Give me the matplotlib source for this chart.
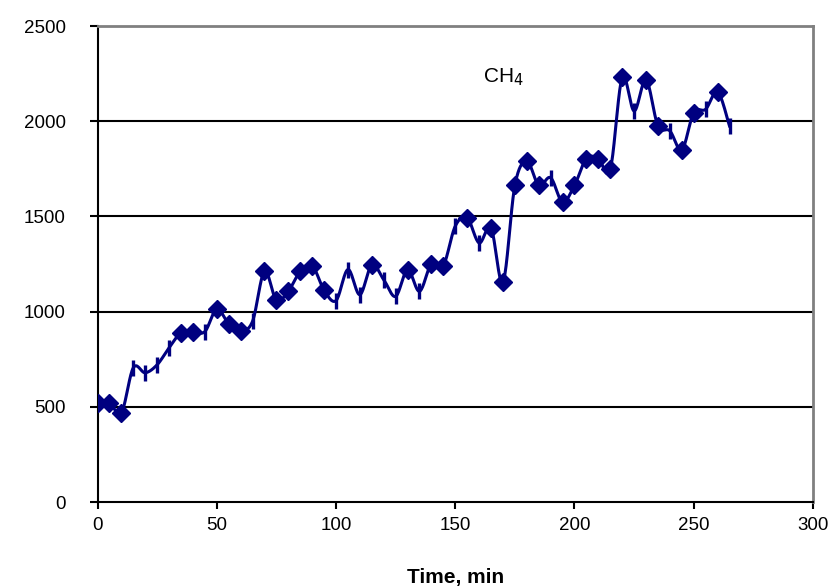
import numpy as np
import matplotlib.pyplot as plt

# CH4 readings, points drawn with diamond markers
diamond_t = [0, 5, 10, 35, 40, 50, 55, 60, 70, 75, 80, 85, 90, 95, 115, 130,
             140, 145, 155, 165, 170, 175, 180, 185, 195, 200, 205, 210, 215,
             220, 230, 235, 245, 250, 260]
diamond_v = [521, 521, 468, 889, 895, 1013, 937, 900, 1212, 1060, 1107, 1212,
             1242, 1112, 1247, 1221, 1252, 1242, 1493, 1440, 1154, 1663, 1791,
             1663, 1575, 1663, 1804, 1804, 1747, 2230, 2217, 1975, 1849, 2045,
             2156]

# CH4 readings, points drawn with short vertical dashes
dash_t = [15, 20, 25, 30, 45, 65, 100, 105, 110, 120, 125, 135, 150, 160, 190,
          225, 240, 255, 265]
dash_v = [705, 679, 721, 810, 895, 949, 1058, 1221, 1089, 1168, 1080, 1107,
          1449, 1361, 1703, 2054, 1949, 2063, 1975]

x_ticks = [0, 50, 100, 150, 200, 250, 300]
y_ticks = [0, 500, 1000, 1500, 2000, 2500]

navy = "#000080"


def smooth_curve(x, y, steps=20):
    """Catmull-Rom style Bezier smoothing, like a spreadsheet's smoothed line."""
    x = np.asarray(x, float)
    y = np.asarray(y, float)
    px = np.concatenate([[x[0]], x, [x[-1]]])
    py = np.concatenate([[y[0]], y, [y[-1]]])
    xs, ys = [], []
    s = np.linspace(0, 1, steps)
    for i in range(1, len(px) - 2):
        p0 = np.array([px[i], py[i]])
        p3 = np.array([px[i + 1], py[i + 1]])
        p1 = p0 + (np.array([px[i + 1], py[i + 1]]) - np.array([px[i - 1], py[i - 1]])) / 6
        p2 = p3 - (np.array([px[i + 2], py[i + 2]]) - np.array([px[i], py[i]])) / 6
        b = ((1 - s) ** 3)[:, None] * p0 + (3 * (1 - s) ** 2 * s)[:, None] * p1 \
            + (3 * (1 - s) * s ** 2)[:, None] * p2 + (s ** 3)[:, None] * p3
        xs.extend(b[:, 0])
        ys.extend(b[:, 1])
    return np.array(xs), np.array(ys)


plt.rcParams['font.family'] = ['Liberation Sans', 'DejaVu Sans']

fig = plt.figure(figsize=(8.3, 5.86), dpi=100)
ax = fig.add_axes([0.1175, 0.1433, 0.862, 0.8123])

# merge both sets for the connecting line
order = np.argsort(diamond_t + dash_t)
all_t = np.array(diamond_t + dash_t)[order]
all_v = np.array(diamond_v + dash_v)[order]
sx, sy = smooth_curve(all_t, all_v)

for g in y_ticks[1:-1]:
    ax.axhline(g, color="black", linewidth=1.5, zorder=1)

ax.plot(sx, sy, color=navy, linewidth=2.2, zorder=2)
ax.plot(dash_t, dash_v, linestyle="none", marker="|", markersize=11,
        markeredgewidth=2.4, color=navy, zorder=3)
ax.plot(diamond_t, diamond_v, linestyle="none", marker="D", markersize=9.5,
        color=navy, zorder=4)

ax.text(161.5, 2230, "CH$_4$", fontsize=15, ha="left", va="center")

ax.set_xlim(0, 300)
ax.set_ylim(0, 2500)
ax.set_xticks(x_ticks)
ax.set_yticks(y_ticks)
ax.tick_params(axis="y", direction="out", length=6, width=1.5, pad=17, labelsize=13.5)
ax.tick_params(axis="x", direction="out", length=5, width=1.5, pad=6, labelsize=13.5)

for side in ["left", "bottom"]:
    ax.spines[side].set_color("black")
    ax.spines[side].set_linewidth(1.5)
for side in ["top", "right"]:
    ax.spines[side].set_color("#808080")
    ax.spines[side].set_linewidth(2)

ax.set_xlabel("Time, min", fontsize=15, fontweight="bold", labelpad=24)

fig.savefig("out.png", dpi=100)
